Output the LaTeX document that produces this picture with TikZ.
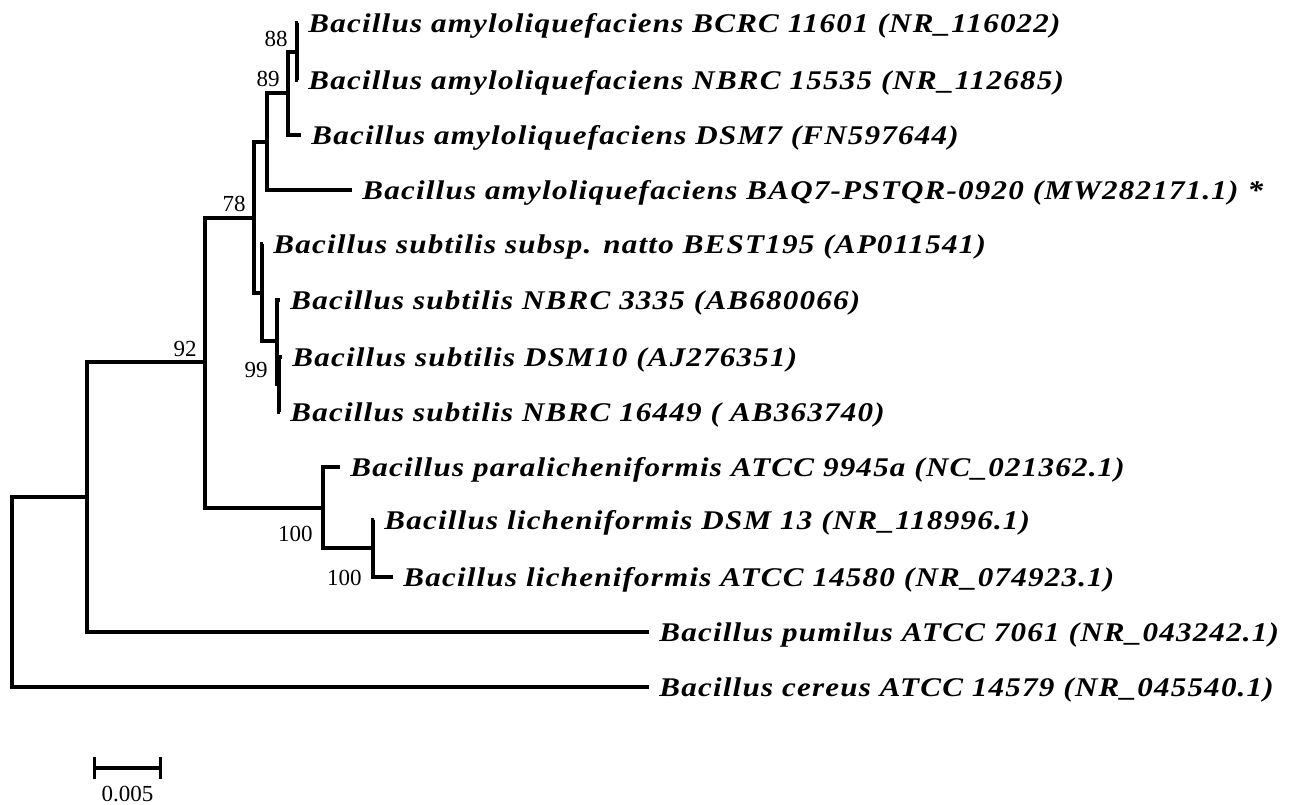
\documentclass[tikz,border=0pt]{standalone}
\usepackage{fontspec}
\setmainfont{Liberation Serif}
\newfontfamily\taxfont{Liberation Serif}[FakeStretch=1.15,LetterSpace=4.5]
\usetikzlibrary{positioning,arrows.meta}

\tikzset{
	branch/.style={line width=1.7pt},
	taxon/.style={anchor=west,inner xsep=5pt,inner ysep=0pt,text height=2ex,text depth=0pt,
		font=\fontsize{13.5}{15}\taxfont\bfseries\itshape},
	boot/.style={inner sep=0pt,text height=1.5ex,text depth=0pt,font=\fontsize{11.5}{13}\selectfont},
}

\begin{document}
\begin{tikzpicture}[x=0.5pt,y=-0.5pt]
		\useasboundingbox (0,0) rectangle (1289,804);
		% internal nodes
		\coordinate (n88) at (297,52);
		\coordinate (n89) at (288,93);
		\coordinate (nAm) at (267,142);
		\coordinate (nSu) at (262,293);
		\coordinate (nT) at (277,341);
		\coordinate (n99) at (279,384);
		\coordinate (n78) at (254,218);
		\coordinate (nLi) at (373,548);
		\coordinate (nPL) at (323,508);
		\coordinate (n92) at (205,362);
		\coordinate (nPu) at (87,497);
		\coordinate (root) at (12,592);
		% tips
		\node[taxon] (bcrc) at (298,23) {Bacillus amyloliquefaciens BCRC 11601 (NR\_116022)};
		\node[taxon] (nbrcA) at (298,80) {Bacillus amyloliquefaciens NBRC 15535 (NR\_112685)};
		\node[taxon] (dsm7) at (301,135) {Bacillus amyloliquefaciens DSM7 (FN597644)};
		\node[taxon] (baq7) at (352,190) {Bacillus amyloliquefaciens BAQ7-PSTQR-0920 (MW282171.1) *};
		\node[taxon] (natto) at (263,244) {Bacillus subtilis subsp. natto BEST195 (AP011541)};
		\node[taxon] (nbrcB) at (280,300) {Bacillus subtilis NBRC 3335 (AB680066)};
		\node[taxon] (dsm10) at (282,357) {Bacillus subtilis DSM10 (AJ276351)};
		\node[taxon] (nbrcC) at (280,412) {Bacillus subtilis NBRC 16449 ( AB363740)};
		\node[taxon] (paral) at (340,467) {Bacillus paralicheniformis ATCC 9945a (NC\_021362.1)};
		\node[taxon] (dsm13) at (374,520) {Bacillus licheniformis DSM 13 (NR\_118996.1)};
		\node[taxon] (atcc) at (393,577) {Bacillus licheniformis ATCC 14580 (NR\_074923.1)};
		\node[taxon] (pumil) at (649,632) {Bacillus pumilus ATCC 7061 (NR\_043242.1)};
		\node[taxon] (cereu) at (649,687) {Bacillus cereus ATCC 14579 (NR\_045540.1)};
		% branches
		\draw[branch] (bcrc.west) -| (n88) |- (nbrcA.west);
		\draw[branch] (n88) -| (n89) |- (dsm7.west);
		\draw[branch] (n89) -| (nAm) |- (baq7.west);
		\draw[branch] (dsm10.west) -| (n99) |- (nbrcC.west);
		\draw[branch] (nbrcB.west) -| (nT) |- (n99);
		\draw[branch] (natto.west) -| (nSu) |- (nT);
		\draw[branch] (nAm) -| (n78) |- (nSu);
		\draw[branch] (dsm13.west) -| (nLi) |- (atcc.west);
		\draw[branch] (paral.west) -| (nPL) |- (nLi);
		\draw[branch] (n78) -| (n92) |- (nPL);
		\draw[branch] (n92) -| (nPu) |- (pumil.west);
		\draw[branch] (nPu) -| (root) |- (cereu.west);
		% bootstrap values
		\node[boot,anchor=east] at ([shift={(-9,-12)}]n88) {88};
		\node[boot,anchor=east] at ([shift={(-8,-13)}]n89) {89};
		\node[boot,anchor=east] at ([shift={(-8,-13)}]n78) {78};
		\node[boot,anchor=east] at ([shift={(-8,-12)}]n92) {92};
		\node[boot,anchor=east] at ([shift={(-11,-13)}]n99) {99};
		\node[boot,anchor=east] at ([shift={(-10,27)}]nPL) {100};
		\node[boot,anchor=east] at ([shift={(-11,31)}]nLi) {100};
		% scale bar
		\coordinate (sbl) at (93,768);
		\coordinate (sbr) at (162,768);
		\draw[branch,{Bar[width=11pt]}-{Bar[width=11pt]}] (sbl) -- (sbr);
		\node[boot] (sblab) at (127.5,795) {0.005};
	\end{tikzpicture}
\end{document}
